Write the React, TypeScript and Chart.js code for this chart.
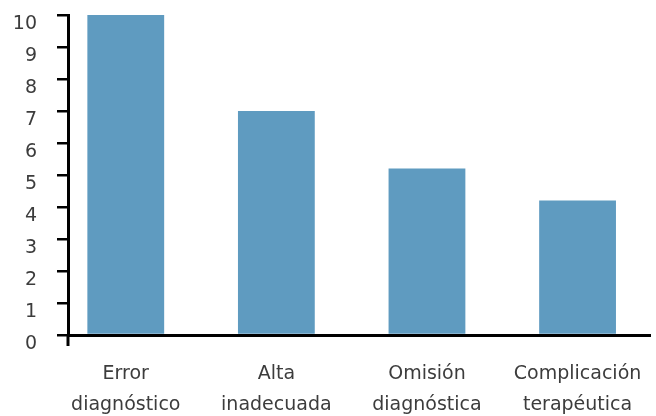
import React, { useEffect, useRef } from "react";
import { Chart, registerables } from "chart.js";

Chart.register(...registerables);

const categories: string[][] = [
  ["Error", "diagnóstico"],
  ["Alta", "inadecuada"],
  ["Omisión", "diagnóstica"],
  ["Complicación", "terapéutica"],
];
const values: number[] = [10, 7, 5.2, 4.2];
const yTicks: number[] = [0, 1, 2, 3, 4, 5, 6, 7, 8, 9, 10];

const BAR_COLOR = "#5f9bc0";
const TEXT_COLOR = "#3c3c3c";
const FONT = "'DejaVu Sans', sans-serif";

const axisStub = {
  id: "axisStub",
  afterDraw(chart: any) {
    const { ctx, chartArea } = chart;
    ctx.save();
    ctx.strokeStyle = "#000";
    ctx.lineWidth = 3;
    ctx.beginPath();
    ctx.moveTo(chartArea.left, chartArea.bottom);
    ctx.lineTo(chartArea.left, chartArea.bottom + 11);
    ctx.stroke();
    ctx.restore();
  },
};

export default function App() {
  const ref = useRef<HTMLCanvasElement | null>(null);

  useEffect(() => {
    if (!ref.current) return;
    const chart = new Chart(ref.current, {
      type: "bar",
      data: {
        datasets: [
          {
            data: values.map((v, i) => ({ x: i, y: v })),
            backgroundColor: BAR_COLOR,
            borderWidth: 0,
            barPercentage: 0.51,
            categoryPercentage: 1,
          },
        ],
      },
      plugins: [axisStub],
      options: {
        animation: false,
        responsive: true,
        maintainAspectRatio: false,
        layout: { padding: { top: 15, right: 6, bottom: 0, left: 0 } },
        plugins: {
          legend: { display: false },
          tooltip: { enabled: false },
        },
        scales: {
          x: {
            type: "linear",
            offset: false,
            min: -0.3836,
            max: 3.481,
            afterBuildTicks: (scale: any) => {
              scale.ticks = categories.map((_, i) => ({ value: i }));
            },
            afterFit: (scale: any) => {
              scale.height = 81;
              scale.paddingLeft = 0;
              scale.paddingRight = 0;
            },
            grid: { display: false, drawTicks: false, offset: false },
            border: { display: true, color: "#000", width: 3 },
            ticks: {
              autoSkip: false,
              maxRotation: 0,
              padding: 24,
              color: TEXT_COLOR,
              font: { family: FONT, size: 19, lineHeight: "31px" },
              callback: (value: any) => categories[value as number] ?? "",
            },
          },
          y: {
            min: 0,
            max: 10,
            afterBuildTicks: (scale: any) => {
              scale.ticks = yTicks.map((v) => ({ value: v }));
            },
            afterFit: (scale: any) => {
              scale.width = 68;
              scale.paddingTop = 0;
              scale.paddingBottom = 0;
            },
            grid: {
              drawOnChartArea: false,
              drawTicks: true,
              tickLength: 11,
              color: "#000",
              lineWidth: 2.5,
            },
            border: { display: true, color: "#000", width: 3 },
            ticks: {
              padding: 20,
              labelOffset: 9,
              color: TEXT_COLOR,
              font: { family: FONT, size: 19 },
            },
          },
        },
      },
    });
    return () => chart.destroy();
  }, []);

  return (
    <div style={{ position: "fixed", left: 0, top: 0, width: 656, height: 416, background: "#fff" }}>
      <canvas ref={ref} />
    </div>
  );
}
